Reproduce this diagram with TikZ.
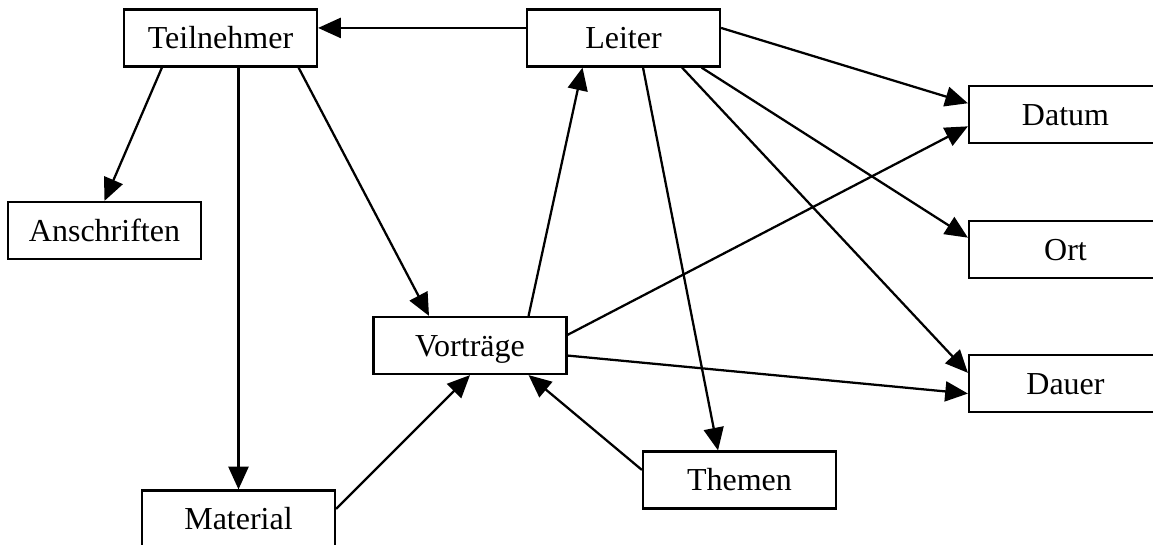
\documentclass[tikz,border=0pt]{standalone}
\usepackage{fontspec}
\setmainfont{Liberation Serif}
\usetikzlibrary{arrows.meta,calc}
\begin{document}
\begin{tikzpicture}[x=0.375pt,y=-0.375pt,
  entity/.style={draw,line width=0.8pt,minimum width=72.4pt,minimum height=21.4pt,
    inner sep=0pt,text height=7.9pt,text depth=0pt,font=\fontsize{12}{14}\selectfont},
  rel/.style={line width=0.85pt,-{Triangle[length=8.5pt,width=7.5pt]}}]
\useasboundingbox (0,0) rectangle (1153,545);
\clip (0,0) rectangle (1153,545);

% entities
\node[entity] (tei) at (220.5,38)   {Teilnehmer};
\node[entity] (lei) at (623.5,38)   {Leiter};
\node[entity] (dat) at (1065.5,114.5) {Datum};
\node[entity] (ans) at (104.5,230.5) {Anschriften};
\node[entity] (ort) at (1065.5,249.5) {Ort};
\node[entity] (vor) at (470,345.5)  {Vorträge};
\node[entity] (dau) at (1065.5,383.5) {Dauer};
\node[entity] (the) at (739.5,480)  {Themen};
\node[entity] (mat) at (238.5,519)  {Material};

% relations from Leiter
\draw[rel] ($(lei.north west)!0.33!(lei.south west)$) -- ($(tei.north east)!0.33!(tei.south east)$);
\draw[rel] ($(lei.north east)!0.33!(lei.south east)$) -- ($(dat.north west)!0.31!(dat.south west)$);
\draw[rel] ($(lei.south west)!0.90!(lei.south east)$) -- ($(ort.north west)!0.30!(ort.south west)$);
\draw[rel] ($(lei.south west)!0.80!(lei.south east)$) -- ($(dau.north west)!0.32!(dau.south west)$);
\draw[rel] ($(lei.south west)!0.60!(lei.south east)$) -- ($(the.north west)!0.39!(the.north east)$);

% relations from Vorträge
\draw[rel] ($(vor.north west)!0.80!(vor.north east)$) -- ($(lei.south west)!0.29!(lei.south east)$);
\draw[rel] ($(vor.north east)!0.32!(vor.south east)$) -- ($(dat.north west)!0.70!(dat.south west)$);
\draw[rel] ($(vor.north east)!0.67!(vor.south east)$) -- ($(dau.north west)!0.67!(dau.south west)$);

% relations from Teilnehmer
\draw[rel] ($(tei.south west)!0.20!(tei.south east)$) -- (ans.north);
\draw[rel] ($(tei.south west)!0.90!(tei.south east)$) -- ($(vor.north west)!0.29!(vor.north east)$);
\draw[rel] (mat.north |- tei.south) -- (mat.north);

% relations into Vorträge from below
\draw[rel] ($(mat.north east)!0.33!(mat.south east)$) -- (vor.south);
\draw[rel] ($(the.north west)!0.33!(the.south west)$) -- ($(vor.south west)!0.80!(vor.south east)$);
\end{tikzpicture}
\end{document}
